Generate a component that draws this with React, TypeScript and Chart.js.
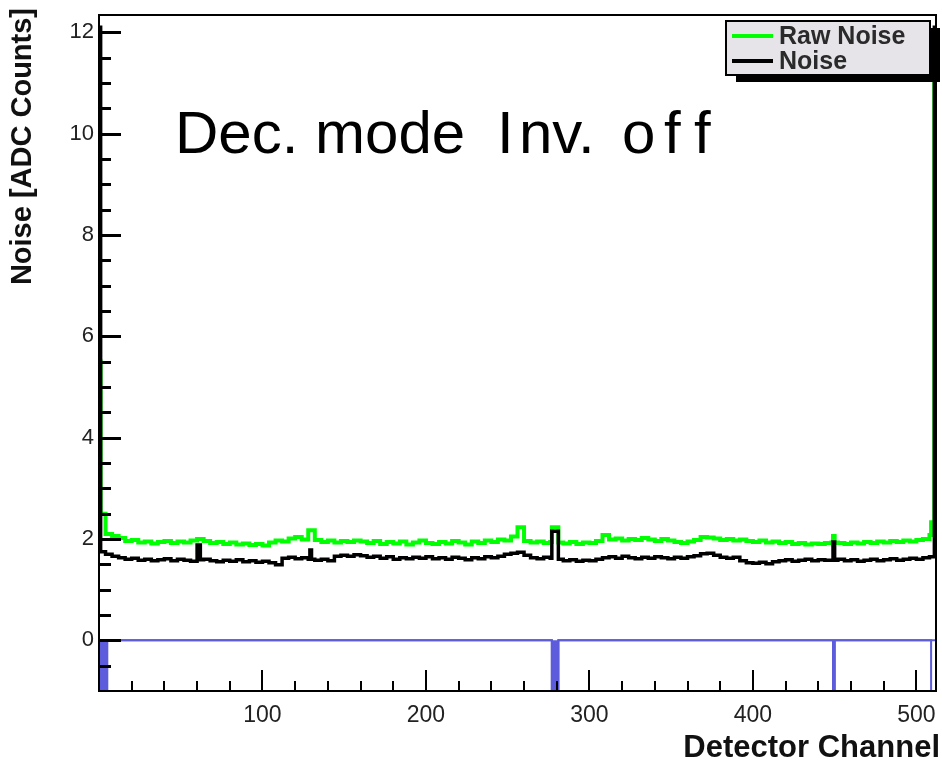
import { useEffect, useRef } from "react";
import { Chart, registerables } from "chart.js";

Chart.register(...registerables);

// Detector read-out: 512 channels, noise in ADC counts
const CHANNEL_COUNT = 512;
const GROUP_SIZE = 4;

const X_MIN = 0;
const X_MAX = 512;
const Y_MIN = -1;
const Y_MAX = 12.34;

const X_TICKS = [100, 200, 300, 400, 500];
const Y_TICKS = [0, 2, 4, 6, 8, 10, 12];
const X_MINOR_STEP = 20;
const Y_MINOR_STEP = 0.5;

// Raw noise, one value per group of 4 channels
const RAW_NOISE_GROUPS = [
  2.5, 2.1, 2.06, 2.02, 1.96, 1.98, 1.93, 1.95, 1.91, 1.94,
  1.96, 1.92, 1.95, 1.93, 1.97, 2.0, 1.96, 1.92, 1.94, 1.9,
  1.93, 1.89, 1.91, 1.88, 1.9, 1.87, 1.93, 1.97, 1.95, 2.01,
  2.04, 1.99, 2.17, 1.98, 1.94, 1.97, 1.93, 1.96, 1.94, 1.97,
  1.95, 1.92, 1.96, 1.9, 1.94, 1.91, 1.95, 1.89, 1.93, 1.97,
  1.92, 1.9, 1.94, 1.91, 1.96, 1.93, 1.89, 1.95, 1.92, 1.97,
  1.94, 1.99, 1.97, 2.05, 2.23, 1.96, 1.93, 1.95, 1.92, 1.94,
  1.93, 1.91, 1.94, 1.9, 1.93, 1.92, 1.96, 2.08, 1.99, 2.01,
  1.97, 2.0, 1.98, 2.02, 1.99, 1.96, 2.0, 1.97, 1.94, 1.92,
  1.95, 1.98, 2.04, 2.03, 2.01, 1.98, 2.0, 1.97, 1.99, 1.96,
  1.94, 1.97, 1.93, 1.95, 1.92, 1.94, 1.9, 1.92, 1.89, 1.91,
  1.9, 1.92, 1.93, 1.92, 1.9, 1.93, 1.91, 1.94, 1.92, 1.95,
  1.93, 1.96, 1.94, 1.97, 1.95, 1.98, 2.0, 2.08,
];

// Common-mode corrected noise, one value per group of 4 channels
const NOISE_GROUPS = [
  1.75, 1.7, 1.66, 1.63, 1.6, 1.62, 1.58, 1.6, 1.57, 1.59,
  1.61, 1.57, 1.6, 1.58, 1.56, 1.59, 1.6, 1.57, 1.55, 1.58,
  1.56, 1.59, 1.55, 1.57, 1.54, 1.56, 1.53, 1.49, 1.62, 1.64,
  1.61, 1.63, 1.6, 1.58, 1.6, 1.57, 1.66, 1.68, 1.66, 1.69,
  1.67, 1.64, 1.66, 1.62, 1.65, 1.6, 1.63, 1.61, 1.64, 1.62,
  1.65, 1.61, 1.63, 1.6, 1.64, 1.62, 1.59, 1.63, 1.61, 1.65,
  1.63, 1.66, 1.7, 1.72, 1.74, 1.68, 1.63, 1.61, 1.64, 1.62,
  1.6, 1.57, 1.59, 1.56, 1.58, 1.57, 1.6, 1.63, 1.65, 1.62,
  1.66, 1.63, 1.61, 1.64, 1.62, 1.65, 1.63, 1.61, 1.64, 1.62,
  1.65, 1.67, 1.71, 1.72, 1.68, 1.64, 1.62, 1.64, 1.57, 1.53,
  1.52, 1.54, 1.51, 1.55, 1.57, 1.59, 1.56, 1.58, 1.6, 1.57,
  1.59, 1.58, 1.58, 1.6, 1.57, 1.59, 1.56, 1.58, 1.6, 1.57,
  1.59, 1.61, 1.58, 1.6, 1.62, 1.6, 1.63, 1.65,
];

// Individual channels that stand out: [channel, value]
const RAW_NOISE_SPIKES: [number, number][] = [
  [0, 5.5], [277, 2.23], [278, 2.23], [279, 2.23], [280, 2.23],
  [449, 2.06], [509, 2.33], [510, 2.33], [511, 11.45],
];
const NOISE_SPIKES: [number, number][] = [
  [0, 12.1], [60, 1.88], [61, 1.88], [129, 1.78],
  [277, 2.15], [278, 2.15], [279, 2.15], [280, 2.15],
  [449, 1.94], [511, 12.1],
];

// Flagged channel ranges [first, last]
const FLAGGED_SOLID: [number, number][] = [[0, 4], [277, 280], [449, 449]];
const FLAGGED_OPEN: [number, number][] = [[509, 511]];
const FLAG_LEVEL = -1;

const LEGEND_ORDER = ["Raw Noise", "Noise"];

const FONT = '"Liberation Sans", Arial, Helvetica, sans-serif';

function buildSeries(groups: number[], spikes: [number, number][]) {
  const spikeMap = new Map(spikes);
  const pts: { x: number; y: number }[] = [];
  for (let ch = 0; ch < CHANNEL_COUNT; ch++) {
    const v = spikeMap.has(ch) ? (spikeMap.get(ch) as number) : groups[Math.floor(ch / GROUP_SIZE)];
    pts.push({ x: ch, y: v });
  }
  pts.push({ x: CHANNEL_COUNT, y: pts[pts.length - 1].y });
  return pts;
}

function buildFlags(ranges: [number, number][]) {
  const pts: { x: number; y: number }[] = [];
  for (let ch = 0; ch < CHANNEL_COUNT; ch++) {
    const flagged = ranges.some(([a, b]) => ch >= a && ch <= b);
    pts.push({ x: ch, y: flagged ? FLAG_LEVEL : 0 });
  }
  pts.push({ x: CHANNEL_COUNT, y: pts[pts.length - 1].y });
  return pts;
}

const framePlugin = {
  id: "rootFrame",
  afterDatasetsDraw(chart: any) {
    const { ctx, chartArea: a, scales } = chart;
    const x = scales.x;
    const y = scales.y;
    ctx.save();
    ctx.strokeStyle = "#000";

    // frame
    ctx.lineWidth = 2;
    ctx.strokeRect(a.left, a.top, a.right - a.left, a.bottom - a.top);

    // y axis ticks (inside the frame)
    ctx.lineWidth = 3;
    for (let v = Y_MIN + Y_MINOR_STEP; v <= Y_MAX; v += Y_MINOR_STEP) {
      const py = Math.round(y.getPixelForValue(v)) + 0.5;
      const major = Y_TICKS.includes(v);
      ctx.beginPath();
      ctx.moveTo(a.left, py);
      ctx.lineTo(a.left + (major ? 22 : 12), py);
      ctx.stroke();
    }

    // x axis ticks
    ctx.lineWidth = 2;
    for (let v = X_MINOR_STEP; v < X_MAX; v += X_MINOR_STEP) {
      const px = Math.round(x.getPixelForValue(v));
      const major = X_TICKS.includes(v);
      ctx.beginPath();
      ctx.moveTo(px, a.bottom);
      ctx.lineTo(px, a.bottom - (major ? 21 : 10));
      ctx.stroke();
    }

    // axis titles
    ctx.fillStyle = "#111";
    ctx.font = `bold 31px ${FONT}`;
    ctx.textAlign = "right";
    ctx.textBaseline = "alphabetic";
    ctx.fillText("Detector Channel", 940, 757);

    ctx.save();
    ctx.translate(31, 8);
    ctx.rotate(-Math.PI / 2);
    ctx.font = `bold 29px ${FONT}`;
    ctx.textAlign = "right";
    ctx.fillText("Noise [ADC Counts]", 0, 0);
    ctx.restore();

    // run condition label
    ctx.fillStyle = "#000";
    ctx.font = `60px ${FONT}`;
    ctx.textAlign = "left";
    ctx.fillText("Dec. mode", 175, 153);
    ctx.fillText("I", 497, 153);
    ctx.fillText("nv.", 519, 153);
    ctx.fillText("o", 622, 153);
    ctx.fillText("f", 664, 153);
    ctx.fillText("f", 694, 153);

    // legend
    const lx = 726, ly = 21, lw = 204, lh = 54;
    ctx.fillStyle = "#000";
    ctx.fillRect(lx + 10, ly + 7, lw, lh);
    ctx.fillStyle = "#e6e4e8";
    ctx.fillRect(lx, ly, lw, lh);
    ctx.lineWidth = 2;
    ctx.strokeStyle = "#000";
    ctx.strokeRect(lx, ly, lw, lh);
    LEGEND_ORDER.forEach((name, i) => {
      const d = chart.data.datasets.find((ds: any) => ds.label === name);
      if (!d) return;
      const cy = ly + 15 + i * 25;
      ctx.strokeStyle = d.borderColor;
      ctx.lineWidth = 4;
      ctx.beginPath();
      ctx.moveTo(lx + 6, cy);
      ctx.lineTo(lx + 47, cy);
      ctx.stroke();
      ctx.fillStyle = "#2a2a2a";
      ctx.font = `bold 25px ${FONT}`;
      ctx.textAlign = "left";
      ctx.textBaseline = "middle";
      ctx.fillText(d.label, lx + 53, cy + 1);
    });
    ctx.restore();
  },
};

export default function App() {
  const canvasRef = useRef<HTMLCanvasElement | null>(null);

  useEffect(() => {
    const canvas = canvasRef.current;
    if (!canvas) return;
    const clip = { left: 3, top: 0, right: 6, bottom: 2 };
    const chart = new Chart(canvas, {
      type: "line",
      data: {
        datasets: [
          {
            label: "Noise",
            data: buildSeries(NOISE_GROUPS, NOISE_SPIKES),
            borderColor: "#000000",
            borderWidth: 3.5,
            stepped: true,
            pointRadius: 0,
            fill: false,
            order: 0,
            clip,
          },
          {
            label: "Raw Noise",
            data: buildSeries(RAW_NOISE_GROUPS, RAW_NOISE_SPIKES),
            borderColor: "#00ff00",
            borderWidth: 4,
            stepped: true,
            pointRadius: 0,
            fill: false,
            order: 1,
            clip,
          },
          {
            data: buildFlags([...FLAGGED_SOLID, ...FLAGGED_OPEN]),
            borderColor: "#5c5cdc",
            borderWidth: 2,
            stepped: true,
            pointRadius: 0,
            fill: false,
            order: 2,
            clip,
          },
          {
            data: buildFlags(FLAGGED_SOLID),
            borderColor: "#5c5cdc",
            backgroundColor: "#5c5cdc",
            borderWidth: 2,
            stepped: true,
            pointRadius: 0,
            fill: "origin",
            order: 3,
            clip,
          },
        ],
      } as any,
      options: {
        animation: false,
        responsive: false,
        maintainAspectRatio: false,
        layout: { padding: { left: 0, top: 15, right: 6, bottom: 0 } },
        plugins: {
          legend: { display: false },
          tooltip: { enabled: false },
        },
        scales: {
          x: {
            type: "linear",
            min: X_MIN,
            max: X_MAX,
            afterFit: (s: any) => {
              s.height = 71;
              s.paddingLeft = 0;
              s.paddingRight = 0;
            },
            afterBuildTicks: (s: any) => {
              s.ticks = X_TICKS.map((v) => ({ value: v }));
            },
            grid: { display: false, drawTicks: false },
            border: { display: false },
            ticks: {
              autoSkip: false,
              maxRotation: 0,
              padding: 11,
              color: "#222",
              font: { family: FONT, size: 23 },
            },
          },
          y: {
            type: "linear",
            min: Y_MIN,
            max: Y_MAX,
            afterFit: (s: any) => {
              s.width = 99;
              s.paddingTop = 0;
              s.paddingBottom = 0;
            },
            afterBuildTicks: (s: any) => {
              s.ticks = Y_TICKS.map((v) => ({ value: v }));
            },
            grid: { display: false, drawTicks: false },
            border: { display: false },
            ticks: {
              padding: 5,
              color: "#222",
              font: { family: FONT, size: 22 },
            },
          },
        },
      },
      plugins: [framePlugin],
    });
    return () => chart.destroy();
  }, []);

  return (
    <div style={{ position: "fixed", left: 0, top: 0, width: 942, height: 762, background: "#fff" }}>
      <canvas ref={canvasRef} width={942} height={762} style={{ display: "block" }} />
    </div>
  );
}
